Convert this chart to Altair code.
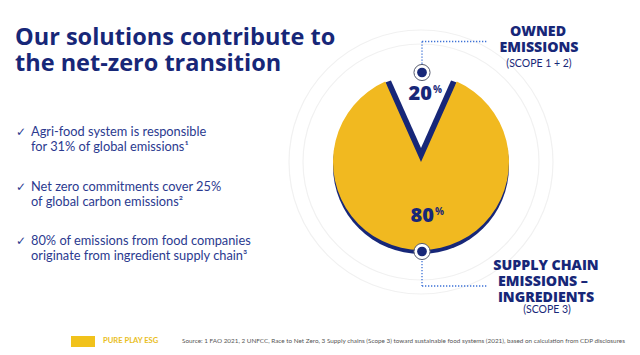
import altair as alt
import pandas as pd

# ---- data ----
PARTS = ["Owned emissions (Scope 1 + 2)", "Supply chain emissions – ingredients (Scope 3)"]
SHARES = [20, 80]
PCT_LABELS = ["20", "80"]
TITLE_LINES = ["Our solutions contribute to", "the net-zero transition"]
BULLETS = [
    ["Agri-food system is responsible", "for 31% of global emissions¹"],
    ["Net zero commitments cover 25%", "of global carbon emissions²"],
    ["80% of emissions from food companies", "originate from ingredient supply chain³"],
]
OWNED_LABEL = ["OWNED", "EMISSIONS"]
OWNED_SUB = "(SCOPE 1 + 2)"
SUPPLY_LABEL = ["SUPPLY CHAIN", "EMISSIONS –", "INGREDIENTS"]
SUPPLY_SUB = "(SCOPE 3)"
BRAND = "PURE PLAY ESG"
SOURCE = ("Source: 1 FAO 2021, 2 UNFCC, Race to Net Zero, 3 Supply chains (Scope 3) toward "
          "sustainable food systems (2021), based on calculation from CDP disclosures")

# ---- style ----
NAVY = "#172778"
BLUE_TXT = "#2b3a8f"
YELLOW = "#F1B920"
DOT = "#3d72d6"
FONT = "Lato"
HEAD = "Open Sans"
W, H = 624, 339
OX, OY = 8, 8  # page margin offset


def px(x):
    return x - OX


def py(y):
    return y - OY


base = alt.Chart(pd.DataFrame({"d": [0]}))

# visual wedge angle (deg) for the owned-emissions gap
WEDGE_DEG = 48
dom_max = SHARES[0] * 360 / WEDGE_DEG
theta_scale = alt.Scale(domain=[0, dom_max], range=[0, 6.283185307179586])

wedge_df = pd.DataFrame({"part": [PARTS[0]], "t0": [dom_max - SHARES[0] / 2], "t1": [dom_max + SHARES[0] / 2]})
yellow_df = pd.DataFrame({"part": [PARTS[1]], "t0": [SHARES[0] / 2], "t1": [dom_max - SHARES[0] / 2]})
full_df = pd.DataFrame({"part": ["all"], "t0": [0], "t1": [dom_max]})

CX, CY = px(421), py(162)
R = 88

rings = alt.layer(*[
    alt.Chart(full_df).mark_arc(filled=False, stroke="#f1f1f1", strokeWidth=1.2).encode(
        theta=alt.Theta("t0:Q", scale=theta_scale), theta2="t1",
        x=alt.value(CX), y=alt.value(CY), radius=alt.value(r))
    for r in [118, 132]
])

shadow = alt.Chart(full_df).mark_arc(color=NAVY).encode(
    theta=alt.Theta("t0:Q", scale=theta_scale), theta2="t1",
    x=alt.value(CX), y=alt.value(CY + 4), radius=alt.value(R))

navy_wedge = alt.Chart(wedge_df).mark_arc(color=NAVY).encode(
    theta=alt.Theta("t0:Q", scale=theta_scale), theta2="t1",
    x=alt.value(CX), y=alt.value(CY + 1), radius=alt.value(R))

white_wedge = alt.Chart(wedge_df).mark_arc(color="white").encode(
    theta=alt.Theta("t0:Q", scale=theta_scale), theta2="t1",
    x=alt.value(CX), y=alt.value(CY - 14), radius=alt.value(R + 14))

yellow = alt.Chart(yellow_df).mark_arc(color=YELLOW).encode(
    theta=alt.Theta("t0:Q", scale=theta_scale), theta2="t1",
    x=alt.value(CX), y=alt.value(CY), radius=alt.value(R))


def txt(s, x, y, size, color, weight="normal", align="left", font=FONT):
    return base.mark_text(text=s, align=align, baseline="alphabetic", fontSize=size,
                          color=color, fontWeight=weight, font=font).encode(
        x=alt.value(px(x)), y=alt.value(py(y)))


def rule(x1, y1, x2, y2):
    return base.mark_rule(color=DOT, strokeWidth=1.3, strokeDash=[1.3, 1.7]).encode(
        x=alt.value(px(x1)), y=alt.value(py(y1)), x2=alt.value(px(x2)), y2=alt.value(py(y2)))


def marker(x, y):
    ring = base.mark_point(shape="circle", filled=True, fill="white", stroke="#555a6e",
                           strokeWidth=1, size=260, opacity=1).encode(
        x=alt.value(px(x)), y=alt.value(py(y)))
    dot = base.mark_point(shape="circle", filled=True, color=NAVY, size=95, opacity=1).encode(
        x=alt.value(px(x)), y=alt.value(py(y)))
    return ring + dot


layers = [rings, shadow, navy_wedge, white_wedge, yellow]

# leader lines and markers
layers += [rule(422, 41.5, 422, 66), rule(422, 41.5, 488, 41.5),
           rule(422, 258, 422, 286), rule(422, 286, 488, 286)]
layers += [marker(422, 72.5), marker(422, 251.5)]

# title
layers += [txt(TITLE_LINES[0], 15, 45, 23.5, NAVY, 700, font=HEAD),
           txt(TITLE_LINES[1], 15, 71, 23.5, NAVY, 700, font=HEAD)]

# bullets
bullet_y = [136, 191, 245]
for by, lines in zip(bullet_y, BULLETS):
    layers.append(txt("✓", 16, by, 12, BLUE_TXT, font="DejaVu Sans"))
    layers.append(txt(lines[0], 31, by, 12.8, BLUE_TXT))
    layers.append(txt(lines[1], 31, by + 15, 12.8, BLUE_TXT))

# percentages
layers += [txt(PCT_LABELS[0], 432, 100, 20, NAVY, 800, "right", font=HEAD),
           txt("%", 433, 93, 10, NAVY, 700, "left", font=HEAD),
           txt(PCT_LABELS[1], 434, 222, 20, NAVY, 800, "right", font=HEAD),
           txt("%", 435, 215, 10, NAVY, 700, "left", font=HEAD)]

# side labels
LS = 14.2
layers += [txt(OWNED_LABEL[0], 538, 36, LS, NAVY, 800, "center", font=HEAD),
           txt(OWNED_LABEL[1], 539, 52, LS, NAVY, 800, "center", font=HEAD),
           txt(OWNED_SUB, 539, 67, 10.5, NAVY, "normal", "center")]
layers += [txt(SUPPLY_LABEL[0], 546, 270, LS, NAVY, 800, "center", font=HEAD),
           txt(SUPPLY_LABEL[1], 543, 286, LS, NAVY, 800, "center", font=HEAD),
           txt(SUPPLY_LABEL[2], 546, 301.5, LS, NAVY, 800, "center", font=HEAD),
           txt(SUPPLY_SUB, 547, 313, 10.5, NAVY, "normal", "center")]

# footer
layers.append(base.mark_rect(color="#F1C21B").encode(
    x=alt.value(px(71)), x2=alt.value(px(95)), y=alt.value(py(336)), y2=alt.value(py(360))))
layers.append(txt(BRAND, 103, 342.5, 7.6, "#E9BE1C", "bold"))
layers.append(txt(SOURCE, 182, 342.5, 6.35, "#555555"))

chart = alt.layer(*layers).properties(
    width=W, height=H, padding=0, autosize=alt.AutoSizeParams(type="none"),
    background="white"
).configure_view(stroke=None)

chart.save("out.html", embed_options={"renderer": "svg", "actions": False})
